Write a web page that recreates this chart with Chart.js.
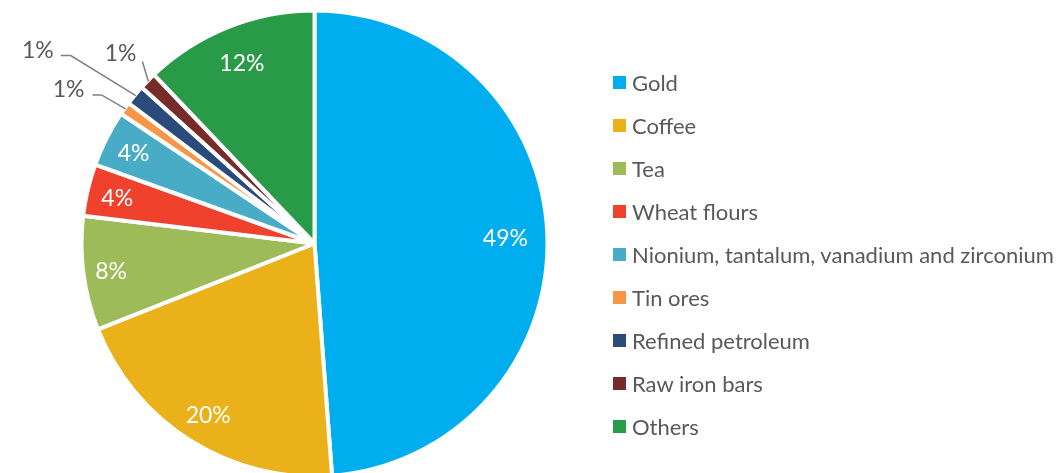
<!DOCTYPE html>
<html>
<head>
<meta charset="utf-8">
<script src="https://cdn.jsdelivr.net/npm/chart.js@4.4.0/dist/chart.umd.min.js"></script>
<style>
  body { margin: 0; overflow: hidden; background: #fff; font-family: Lato, "Open Sans", sans-serif; }
  #wrap { position: absolute; left: 0; top: 0; width: 1059px; height: 490px; }
  #legend { position: absolute; left: 613px; top: 0; }
  .item { position: absolute; left: 0; height: 43px; display: flex; align-items: center; white-space: nowrap;
          font-size: 22px; color: #595959; }
  .box { width: 13px; height: 13px; margin-right: 6px; flex: none; }
</style>
</head>
<body>
<div id="wrap"><canvas id="pie" width="1059" height="490"></canvas></div>
<div id="legend"></div>
<script>
const produtos = ['Gold', 'Coffee', 'Tea', 'Wheat flours', 'Nionium, tantalum, vanadium and zirconium',
  'Tin ores', 'Refined petroleum', 'Raw iron bars', 'Others'];
const valores = [48.8, 20.2, 7.9, 3.6, 3.9, 0.9, 1.4, 1.2, 12.1];
const cores = ['#00aeef', '#ebb11a', '#9dbb59', '#f0412d', '#48acc6', '#f79646', '#2b4c7a', '#772c2a', '#299b48'];

// onde fica o rotulo dentro da fatia (fracao do raio)
const raioRotulo = [0.82, 0.86, 0.88, 0.87, 0.87, 0, 0, 0, 0.84];
// rotulos de fora (so as fatias pequenas): cotovelo relativo a borda, trecho horizontal, desvio do texto
const rotulosFora = [null, null, null, null, null,
  { ex: -24, ey: -14, run: 9, tx: 8, ty: 7 },
  { ex: -65, ey: -40, run: 10, tx: 7, ty: 7 },
  { ex: -6, ey: -20, run: 0, tx: 6, ty: 10 },
  null];

const total = valores.reduce((a, b) => a + b, 0);

const rotulos = {
  id: 'rotulos',
  afterDatasetsDraw(chart) {
    const c = chart.ctx;
    const arcs = chart.getDatasetMeta(0).data;
    c.save();
    c.font = '23px Lato, sans-serif';
    c.textBaseline = 'middle';
    arcs.forEach((arc, i) => {
      const p = arc.getProps(['x', 'y', 'startAngle', 'endAngle', 'outerRadius'], true);
      const mid = (p.startAngle + p.endAngle) / 2;
      const txt = Math.round(valores[i] / total * 100) + '%';
      const cfg = rotulosFora[i];
      if (!cfg) {
        const r = p.outerRadius * raioRotulo[i];
        c.fillStyle = '#fff';
        c.textAlign = 'center';
        c.fillText(txt, p.x + Math.cos(mid) * r, p.y + Math.sin(mid) * r + 2);
      } else {
        const x0 = p.x + Math.cos(mid) * (p.outerRadius - 1);
        const y0 = p.y + Math.sin(mid) * (p.outerRadius - 1);
        const x1 = x0 + cfg.ex;
        const y1 = y0 + cfg.ey;
        const x2 = x1 - cfg.run;
        c.strokeStyle = '#7f7f7f';
        c.lineWidth = 1.5;
        c.beginPath();
        c.moveTo(x0, y0);
        c.lineTo(x1, y1);
        c.lineTo(x2, y1);
        c.stroke();
        c.fillStyle = '#595959';
        c.textAlign = 'right';
        c.fillText(txt, x2 - cfg.tx, y1 - cfg.ty + 2);
      }
    });
    c.restore();
  }
};

const R = 235;
const cx = 314.5, cy = 243.5;

new Chart(document.getElementById('pie'), {
  type: 'pie',
  data: {
    labels: produtos,
    datasets: [{
      data: valores,
      backgroundColor: cores,
      borderColor: '#fff',
      borderWidth: 4
    }]
  },
  options: {
    responsive: false,
    animation: false,
    layout: {
      padding: { left: cx - R, top: cy - R, right: 1059 - cx - R, bottom: 490 - cy - R }
    },
    plugins: {
      legend: { display: false },
      tooltip: { enabled: false }
    }
  },
  plugins: [rotulos]
});

// legenda em HTML
const legenda = document.getElementById('legend');
produtos.forEach((nome, i) => {
  const el = document.createElement('div');
  el.className = 'item';
  el.style.top = (82 + 43 * i - 21.5) + 'px';
  el.innerHTML = '<span class="box" style="background:' + cores[i] + '"></span><span>' + nome + '</span>';
  legenda.appendChild(el);
});
</script>
</body>
</html>
